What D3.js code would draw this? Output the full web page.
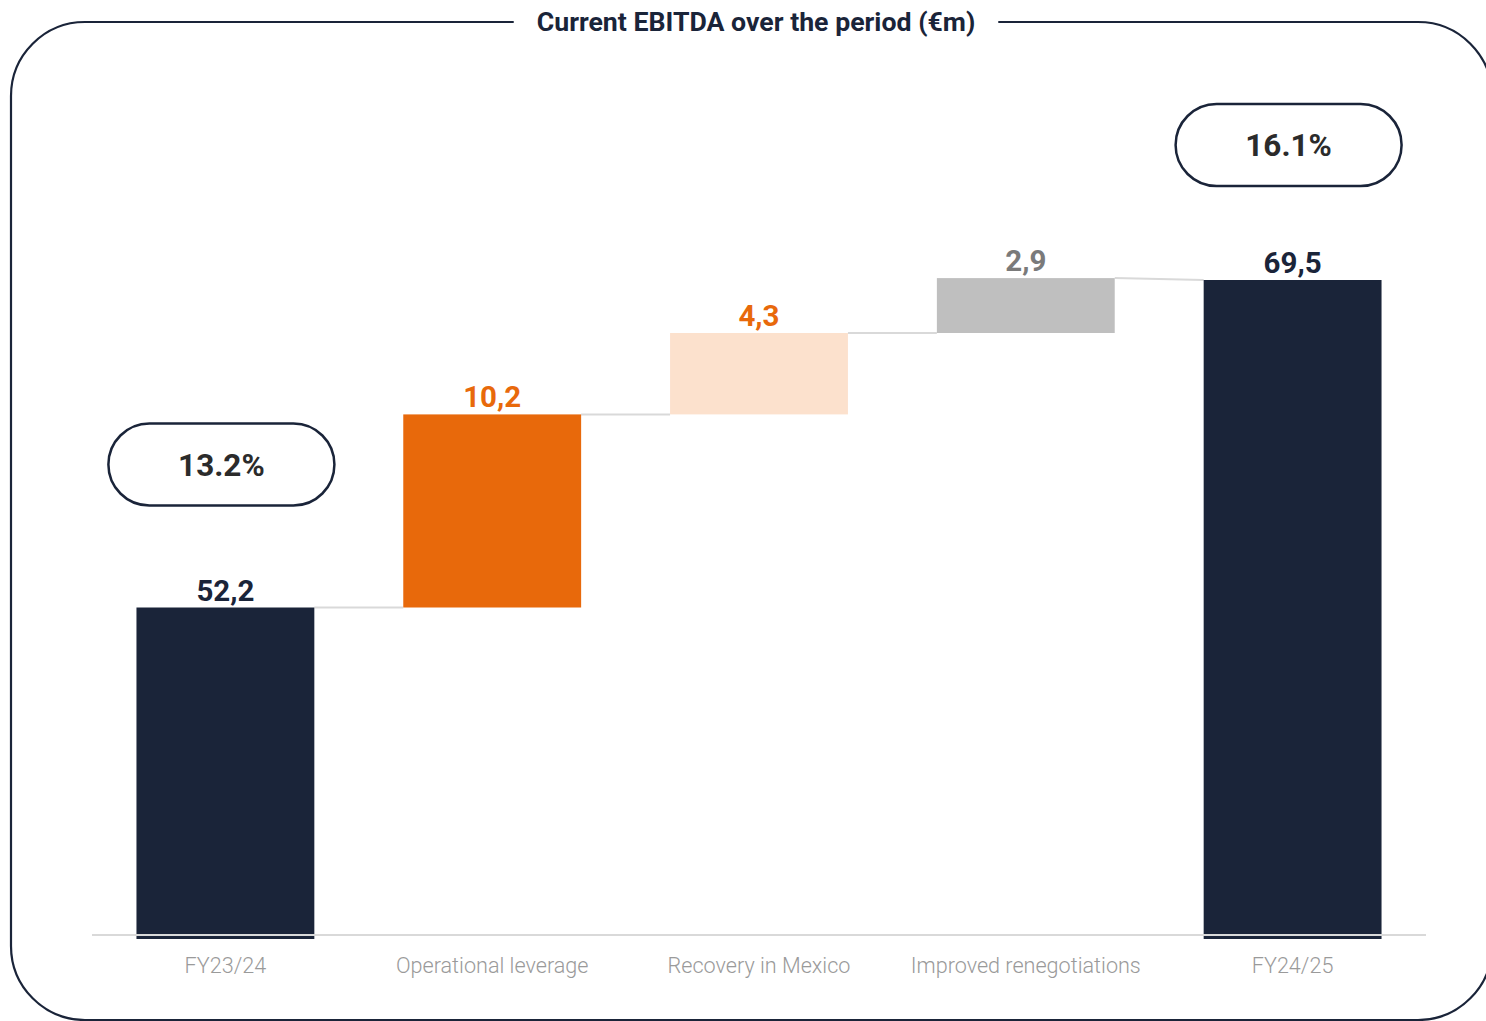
<!DOCTYPE html>
<html>
<head>
<meta charset="utf-8">
<script src="https://cdn.jsdelivr.net/npm/d3@7"></script>
<style>
  html, body { margin: 0; padding: 0; background: #fff; }
  svg { display: block; font-family: Roboto, "Noto Sans", sans-serif; }
</style>
</head>
<body>
<div id="chart"></div>
<script>
// data
const categories = ["FY23/24", "Operational leverage", "Recovery in Mexico", "Improved renegotiations", "FY24/25"]
const values = [52.2, 10.2, 4.3, 2.9, 69.5]
const kinds = ["total", "delta", "delta", "delta", "total"]
const valueLabels = ["52,2", "10,2", "4,3", "2,9", "69,5"]
const margins = ["13.2%", null, null, null, "16.1%"]
const title = "Current EBITDA over the period (€m)"

const width = 1486, height = 1021
const navy = "#1a2439"
const barFill = ["#1a2439", "#e8690b", "#fce1cd", "#bfbfbf", "#1a2439"]
const labelFill = ["#1a2439", "#e8690b", "#e8690b", "#7a7a7a", "#1a2439"]
const pillLift = [143, 0, 0, 0, 135]  // px above the bar top

// build waterfall steps
let run = 0
const steps = values.map((v, i) => {
    let start, end
    if (kinds[i] === "total") { start = null; end = v; run = v }
    else { start = run; end = run + v; run = end }
    return {cat: categories[i], start, end, i}
})

const svg = d3.select("#chart").append("svg")
    .attr("width", width)
    .attr("height", height)

const x = d3.scaleBand()
    .domain(categories)
    .range([92, 1426])
    .paddingInner(1 / 3)
    .paddingOuter(1 / 6)

const y = d3.scaleLinear()
    .domain([34.9, 69.5])
    .range([935, 280])

// frame with the title cut into the top edge
const fx0 = 11, fy0 = 22, fx1 = 1492, fy1 = 1020, r = 74
const titleText = svg.append("text")
    .attr("x", 756)
    .attr("y", 31)
    .attr("text-anchor", "middle")
    .attr("font-size", 26.7)
    .attr("font-weight", 700)
    .attr("fill", navy)
    .text(title)
let tw = titleText.node().getComputedTextLength()
if (tw > 440) {
    titleText.attr("textLength", 438).attr("lengthAdjust", "spacingAndGlyphs")
    tw = 438
}
const gapL = 756 - tw / 2 - 23, gapR = 756 + tw / 2 + 23

const framePath = d3.path()
framePath.moveTo(gapR, fy0)
framePath.lineTo(fx1 - r, fy0)
framePath.arcTo(fx1, fy0, fx1, fy0 + r, r)
framePath.lineTo(fx1, fy1 - r)
framePath.arcTo(fx1, fy1, fx1 - r, fy1, r)
framePath.lineTo(fx0 + r, fy1)
framePath.arcTo(fx0, fy1, fx0, fy1 - r, r)
framePath.lineTo(fx0, fy0 + r)
framePath.arcTo(fx0, fy0, fx0 + r, fy0, r)
framePath.lineTo(gapL, fy0)

svg.insert("path", "text")
    .attr("d", framePath.toString())
    .attr("fill", "none")
    .attr("stroke", navy)
    .attr("stroke-width", 2.2)

// connectors
const conn = svg.append("g")
steps.slice(0, -1).forEach((s, i) => {
    const n = steps[i + 1]
    conn.append("line")
        .attr("x1", x(s.cat) + x.bandwidth())
        .attr("x2", x(n.cat))
        .attr("y1", y(s.end))
        .attr("y2", y(n.start === null ? n.end : n.start))
        .attr("stroke", "#d9d9d9")
        .attr("stroke-width", 2)
})

// bars
svg.append("g")
    .selectAll("rect")
    .data(steps)
    .join("rect")
    .attr("x", d => x(d.cat))
    .attr("width", x.bandwidth())
    .attr("y", d => y(d.end))
    .attr("height", d => d.start === null ? y.range()[0] - y(d.end) + 4 : y(d.start) - y(d.end))
    .attr("fill", d => barFill[d.i])

// baseline
svg.append("line")
    .attr("x1", x.range()[0])
    .attr("x2", x.range()[1])
    .attr("y1", y.range()[0])
    .attr("y2", y.range()[0])
    .attr("stroke", "#d9d9d9")
    .attr("stroke-width", 2)

// value labels
svg.append("g")
    .selectAll("text")
    .data(steps)
    .join("text")
    .attr("x", d => x(d.cat) + x.bandwidth() / 2)
    .attr("y", d => y(d.end) - 7)
    .attr("text-anchor", "middle")
    .attr("font-size", 29.5)
    .attr("font-weight", 700)
    .attr("fill", d => labelFill[d.i])
    .text(d => valueLabels[d.i])

// category labels
svg.append("g")
    .selectAll("text")
    .data(categories)
    .join("text")
    .attr("x", d => x(d) + x.bandwidth() / 2)
    .attr("y", 973)
    .attr("text-anchor", "middle")
    .attr("font-size", 21.6)
    .attr("font-weight", 300)
    .attr("fill", "#9a9a9a")
    .text(d => d)

// margin pills
const pills = svg.append("g")
steps.forEach(s => {
    const m = margins[s.i]
    if (!m) return
    const cx = x(s.cat) + x.bandwidth() / 2 - 4
    const cy = y(s.end) - pillLift[s.i]
    const pw = 226, ph = 82
    pills.append("rect")
        .attr("x", cx - pw / 2)
        .attr("y", cy - ph / 2)
        .attr("width", pw)
        .attr("height", ph)
        .attr("rx", ph / 2)
        .attr("fill", "#fff")
        .attr("stroke", navy)
        .attr("stroke-width", 2.5)
    pills.append("text")
        .attr("x", cx)
        .attr("y", cy + 11)
        .attr("text-anchor", "middle")
        .attr("font-size", 31.5)
        .attr("font-weight", 700)
        .attr("fill", "#2b2b2b")
        .text(m)
})
</script>
</body>
</html>
